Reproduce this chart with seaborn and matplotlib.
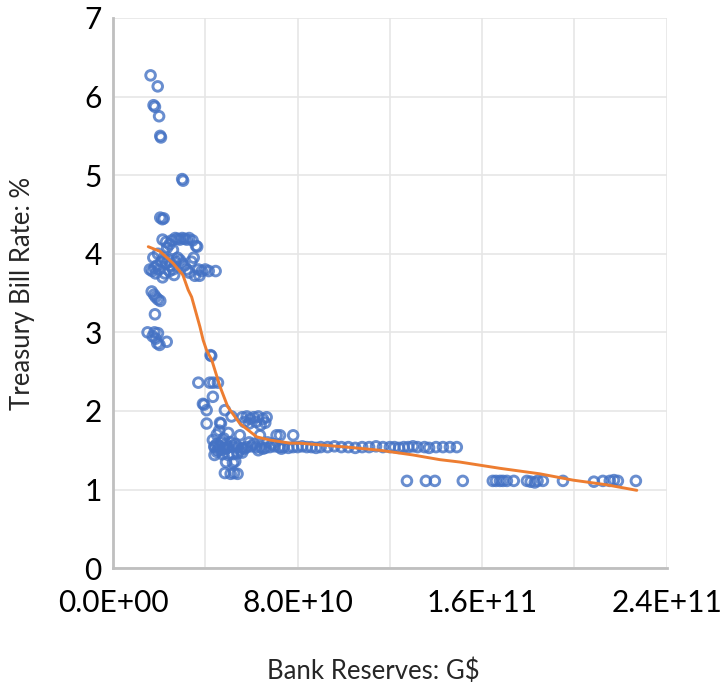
import numpy as np
import pandas as pd
import matplotlib
matplotlib.use("Agg")
import matplotlib.pyplot as plt
import seaborn as sns
from matplotlib.ticker import FuncFormatter, MultipleLocator

sns.set_style("white")
plt.rcParams['font.family'] = ['Lato', 'DejaVu Sans']

# Bank reserves in units of 1E10 dollars, treasury bill rate in %
# high-rate years
high_x = [1.63, 1.94, 1.76, 1.82, 2.00, 2.05, 2.08, 3.00, 3.04, 2.05, 2.20, 2.14]
high_y = [6.27, 6.13, 5.89, 5.87, 5.75, 5.50, 5.48, 4.95, 4.93, 4.46, 4.45, 4.44]

# cluster around 3.7 - 4.2
mid_x = [2.15, 2.30, 2.45, 2.55, 2.70, 2.80, 2.90, 3.00, 3.10, 3.20, 3.30, 3.45,
         3.60, 3.65, 2.60, 2.35,
         1.60, 1.70, 1.80, 1.90, 2.00, 2.10, 2.20, 2.30, 2.40, 2.50, 2.60, 2.70,
         2.80, 2.90, 3.00, 3.10, 3.20, 3.30, 2.25, 2.45, 2.65, 1.75, 1.95, 3.40,
         3.50, 2.15, 1.85,
         3.70, 3.85, 4.00, 4.15, 4.45, 3.55, 3.75]
mid_y = [4.18, 4.15, 4.12, 4.17, 4.20, 4.19, 4.18, 4.20, 4.19, 4.18, 4.20, 4.17,
         4.10, 4.09, 4.05, 4.08,
         3.80, 3.78, 3.82, 3.85, 3.80, 3.90, 3.95, 3.88, 3.92, 3.85, 3.80, 3.90,
         3.95, 3.92, 3.88, 3.85, 3.80, 3.76, 3.75, 3.78, 3.73, 3.95, 4.00, 3.90,
         3.95, 3.70, 3.75,
         3.80, 3.78, 3.80, 3.78, 3.78, 3.72, 3.72]

# lower group at small reserves
low_x = [1.68, 1.78, 1.95, 2.05, 1.85, 1.82, 1.50, 1.80, 1.95, 1.85, 1.92, 2.02,
         2.33, 1.72]
low_y = [3.52, 3.48, 3.42, 3.40, 3.45, 3.23, 3.00, 3.00, 2.99, 2.92, 2.86, 2.84,
         2.88, 2.95]

# transition
trans_x = [4.23, 4.26, 3.70, 4.20, 4.35, 4.55, 4.33, 3.90, 3.95, 4.06, 4.85, 4.06,
           4.64, 4.68, 5.14,
           5.60, 5.80, 5.95, 6.10, 6.30, 6.50, 6.66, 5.70, 5.90, 6.20, 6.40, 6.60,
           5.50, 6.37, 7.09, 7.24, 7.81,
           4.33, 4.50, 4.60, 4.80, 4.40, 4.70, 4.90, 5.00, 4.55, 4.75, 5.00, 5.20,
           5.40, 4.40, 4.90, 5.20, 5.30, 4.85, 5.10, 5.25, 5.40, 4.50, 5.60]
trans_y = [2.71, 2.70, 2.36, 2.36, 2.36, 2.36, 2.18, 2.09, 2.08, 2.01, 2.01, 1.84,
           1.85, 1.84, 1.93,
           1.92, 1.93, 1.90, 1.92, 1.93, 1.90, 1.92, 1.86, 1.84, 1.86, 1.82, 1.85,
           1.69, 1.69, 1.69, 1.69, 1.69,
           1.63, 1.70, 1.75, 1.65, 1.55, 1.60, 1.58, 1.72, 1.50, 1.45, 1.44, 1.45,
           1.46, 1.44, 1.35, 1.34, 1.36, 1.21, 1.20, 1.21, 1.20, 1.48, 1.47]

# floor near 1.54 %
floor_x = [4.4, 4.6, 4.8, 5.0, 5.2, 5.4, 5.6, 5.8, 6.0, 6.2, 6.4, 6.6, 6.8, 7.0,
           7.2, 7.4, 7.6, 7.8, 8.0, 8.2, 8.4, 8.6, 8.8, 9.0, 9.3, 9.6, 9.9, 10.2,
           10.5, 10.8, 11.1, 11.4, 11.7, 12.0, 12.2, 12.4, 12.6, 12.8, 13.0, 13.2,
           13.5, 13.7, 14.0, 14.3, 14.6, 14.9,
           4.5, 4.9, 5.3, 5.7, 6.1, 6.5, 6.9, 7.3, 4.7, 5.1, 5.5, 5.9, 6.3, 6.7]
floor_y = [1.54, 1.55, 1.53, 1.54, 1.55, 1.54, 1.53, 1.54, 1.55, 1.54, 1.54, 1.53,
           1.54, 1.55, 1.54, 1.54, 1.53, 1.54, 1.54, 1.55, 1.54, 1.54, 1.53, 1.54,
           1.54, 1.55, 1.54, 1.54, 1.53, 1.54, 1.54, 1.55, 1.54, 1.54, 1.54, 1.53,
           1.54, 1.54, 1.55, 1.54, 1.54, 1.53, 1.54, 1.54, 1.54, 1.54,
           1.58, 1.52, 1.58, 1.52, 1.58, 1.52, 1.58, 1.52, 1.50, 1.60, 1.50, 1.60,
           1.50, 1.60]

# recent low rate
recent_x = [12.74, 13.56, 13.95, 15.16, 16.46, 16.60, 16.77, 16.90, 17.07, 17.37,
            17.94, 18.10, 18.28, 18.40, 18.63, 19.50, 20.84, 21.23, 21.53, 21.71,
            21.88, 22.66]
recent_y = [1.11, 1.11, 1.11, 1.11, 1.11, 1.11, 1.11, 1.11, 1.11, 1.11,
            1.11, 1.10, 1.09, 1.11, 1.11, 1.11, 1.10, 1.11, 1.11, 1.12,
            1.11, 1.11]

# smoothed trend
trend_x = [1.53, 2.04, 2.60, 3.03, 3.26, 3.41, 3.77, 3.91, 4.06, 4.28, 4.64, 4.98,
           5.50, 6.23, 6.80, 7.67, 8.10, 10.13, 11.57, 13.00, 14.17, 15.03, 16.77,
           18.50, 19.93, 21.40, 22.70]
trend_y = [4.09, 4.03, 3.88, 3.73, 3.54, 3.45, 3.07, 2.90, 2.77, 2.65, 2.31, 2.05,
           1.84, 1.67, 1.63, 1.59, 1.59, 1.54, 1.50, 1.44, 1.38, 1.35, 1.27, 1.20,
           1.12, 1.06, 0.99]

scale = 1e10
pts = pd.DataFrame({
    "reserves": np.array(high_x + mid_x + low_x + trans_x + floor_x + recent_x) * scale,
    "rate": high_y + mid_y + low_y + trans_y + floor_y + recent_y,
})
trend = pd.DataFrame({"reserves": np.array(trend_x) * scale, "rate": trend_y})

fig = plt.figure(figsize=(7.24, 6.92), dpi=100)
ax = fig.add_axes([0.156, 0.179, 0.765, 0.795])

sns.scatterplot(data=pts, x="reserves", y="rate", ax=ax, marker="o", s=48,
                facecolor="none", edgecolor="#4472C4", linewidth=2.1, alpha=0.8,
                zorder=3)
sns.lineplot(data=trend, x="reserves", y="rate", ax=ax, sort=False,
             estimator=None, color="#ED7D31", linewidth=2.1, zorder=4)

ax.set_xlim(0, 2.4e11)
ax.set_ylim(0, 7)
ax.xaxis.set_major_locator(MultipleLocator(4e10))
ax.yaxis.set_major_locator(MultipleLocator(1))

# Excel skips every other label on the x axis
def sci_fmt(v, pos):
    if int(round(v / 4e10)) % 2 == 1:
        return ""
    return f"{v:.1E}"

ax.xaxis.set_major_formatter(FuncFormatter(sci_fmt))
ax.grid(True, color="#E6E6E6", linewidth=1.2)
ax.set_axisbelow(True)
for side in ["top", "right"]:
    ax.spines[side].set_visible(False)
for side in ["left", "bottom"]:
    ax.spines[side].set_color("#BFBFBF")
    ax.spines[side].set_linewidth(2)

ax.tick_params(axis="both", length=0, labelsize=21.5, colors="black")
ax.tick_params(axis="x", pad=15)
ax.tick_params(axis="y", pad=8)
ax.set_xlabel("Bank Reserves: G$", fontsize=18.5)
ax.set_ylabel("Treasury Bill Rate: %", fontsize=18.5)
ax.xaxis.set_label_coords(0.47, -0.165)
ax.yaxis.set_label_coords(-0.14, 0.5)

fig.savefig("out.png", dpi=100)
